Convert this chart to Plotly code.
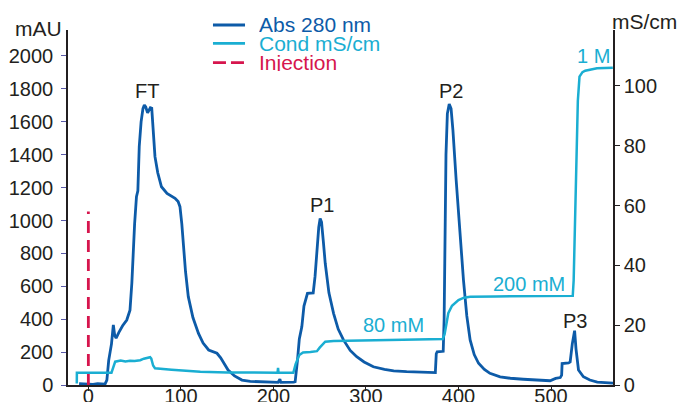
import plotly.graph_objects as go

# UV absorbance at 280 nm (mAU) versus elution volume (mL)
abs_x = [-10, -5, 0, 5, 10, 14, 18, 20, 22, 25, 27, 28.5, 30, 33, 37, 41.5, 45, 47, 48.7, 50,
         52, 53.5, 55, 57, 59, 60.5, 62, 64, 65.5, 67, 68.5, 70, 72, 75, 79, 85, 93.7, 97, 99, 101,
         102.7, 105, 108, 113, 119, 124, 130, 135, 139, 143, 147, 151, 158, 166, 175, 190, 205, 207,
         208, 222, 223.5, 226, 228, 230.7, 233, 236.8, 243, 245, 247, 249, 250.5, 252, 254, 256, 260,
         265, 270, 275.7, 283, 290, 298, 304.5, 308, 320, 330, 344, 360, 375, 376, 377, 383.5, 384.5,
         385.5, 386.5, 388, 390, 392, 394, 397.5, 401, 405.4, 409, 412.6, 417, 421.7, 428, 434, 445,
         456, 470, 485, 499, 505, 510, 511.5, 512, 519, 520.7, 523, 525.5, 527, 529.7, 535, 542, 550,
         560, 567]
abs_y = [8, 6, 3, 4, 8, 5, 5, 30, 150, 250, 365, 300, 285, 320, 360, 395, 455, 620, 840, 980,
         1145, 1180, 1450, 1600, 1680, 1702, 1690, 1655, 1670, 1685, 1682, 1560, 1388, 1290, 1205, 1165, 1135, 1115, 1084, 980,
         840, 690, 537, 410, 314, 255, 213, 200, 193, 165, 125, 91, 55, 30, 22, 18, 16, 35,
         16, 18, 20, 150, 280, 354, 480, 557, 560, 660, 820, 960, 1013, 990, 870, 740, 560,
         436, 340, 274, 210, 172, 140, 122, 111, 95, 86, 81, 77, 75, 190, 202, 205, 400,
         900, 1400, 1650, 1708, 1680, 1550, 1246, 950, 638, 420, 274, 185, 132, 95, 71, 50,
         41, 35, 30, 26, 40, 45, 60, 130, 135, 140, 250, 330, 220, 91, 50, 30, 18,
         14, 12]

# Conductivity (mS/cm) versus elution volume (mL)
cond_x = [-12.5, -12.4, 25, 27, 29, 35, 40, 45, 50, 56, 60, 66.7, 68, 70, 72, 90, 121, 150, 200,
          204.5, 205, 205.5, 221.5, 224, 228, 232, 240, 247, 250, 253, 256, 265, 300, 340, 383, 385,
          387, 389, 393, 400, 406, 412.6, 440, 480, 523.5, 524.5, 525.4, 526.5, 527.9, 529, 530.8,
          534, 537, 543, 549.7, 566.8]
cond_y = [0.5, 4.1, 4.1, 6, 7.8, 8.2, 7.9, 8.1, 8.0, 8.3, 8.8, 9.3, 8.8, 6.5, 5.6, 5.1, 4.4, 4.2, 4.1,
          4.1, 5.7, 4.1, 4.1, 7, 10, 10.9, 11.0, 11.3, 12.5, 13.5, 14.5, 14.7, 15.0, 15.1, 15.4, 17,
          20.5, 24, 26.5, 28.4, 29.2, 29.5, 29.6, 29.6, 29.8, 35, 48.5, 65, 82, 95, 103.1,
          104.6, 105.1, 105.6, 105.9, 106.1]

# Sample injection marker
inj_x = [0, 0]
inj_y = [0, 1055]

# Peak and step labels: (text, volume, mAU)
peak_labels = [("FT", 63, 1790), ("P1", 252, 1094), ("P2", 392, 1790), ("P3", 526, 392)]
salt_labels = [("80 mM", 330, 362), ("200 mM", 476, 614), ("1 M", 546, 2001)]

legend_names = ["Abs 280 nm", "Cond mS/cm", "Injection"]

x_ticks = [0, 100, 200, 300, 400, 500]
y_ticks = [0, 200, 400, 600, 800, 1000, 1200, 1400, 1600, 1800, 2000]
y2_ticks = [0, 20, 40, 60, 80, 100]

BLUE = "#0d5ba8"
CYAN = "#1aaed2"
RED = "#d6154d"
INK = "#231f20"
FONT = "Liberation Sans, Arial, Helvetica, sans-serif"

fig = go.Figure()
fig.add_trace(go.Scatter(x=cond_x, y=cond_y, yaxis="y2", mode="lines",
                         line=dict(color=CYAN, width=2.5), name=legend_names[1]))
fig.add_trace(go.Scatter(x=abs_x, y=abs_y, mode="lines",
                         line=dict(color=BLUE, width=2.8), name=legend_names[0]))
fig.add_trace(go.Scatter(x=inj_x, y=inj_y, mode="lines",
                         line=dict(color=RED, width=2.8, dash="12px,7px"), name=legend_names[2]))

annotations = []
for text, xv, yv in peak_labels:
    annotations.append(dict(x=xv, y=yv, xref="x", yref="y", text=text, showarrow=False,
                            font=dict(family=FONT, size=20, color=INK)))
for text, xv, yv in salt_labels:
    annotations.append(dict(x=xv, y=yv, xref="x", yref="y", text=text, showarrow=False,
                            font=dict(family=FONT, size=20, color=CYAN)))

# Axis unit titles
annotations.append(dict(x=-0.0536, y=1.007, xref="paper", yref="paper", text="mAU",
                        xanchor="center", yanchor="middle", showarrow=False, height=18,
                        font=dict(family=FONT, size=21, color=INK)))
annotations.append(dict(x=1.0587, y=1.0254, xref="paper", yref="paper", text="mS/cm",
                        xanchor="center", yanchor="middle", showarrow=False, height=18,
                        font=dict(family=FONT, size=21, color=INK)))

# Compact legend drawn in paper coordinates
shapes = []
leg_rows = [1.0141, 0.9625, 0.9079]
leg_cols = [BLUE, CYAN, RED]
leg_dash = ["solid", "solid", "13px,5px"]
for name, yr, col, dsh in zip(legend_names, leg_rows, leg_cols, leg_dash):
    shapes.append(dict(type="line", xref="paper", yref="paper", x0=0.266, x1=0.3248, y0=yr, y1=yr,
                       line=dict(color=col, width=2.8, dash=dsh)))
    annotations.append(dict(x=0.3462, y=yr, xref="paper", yref="paper", text=name, showarrow=False,
                            xanchor="left", yanchor="middle", height=17,
                            font=dict(family=FONT, size=21, color=col)))

fig.update_layout(
    width=681, height=402,
    margin=dict(l=68, r=68, t=30, b=17, autoexpand=False),
    paper_bgcolor="white", plot_bgcolor="white",
    showlegend=False,
    font=dict(family=FONT, size=20, color=INK),
    annotations=annotations, shapes=shapes,
    xaxis=dict(range=[-22, 567], tickvals=x_ticks, showgrid=False, zeroline=False,
               automargin=False, ticklabelstandoff=-12,
               showline=True, linecolor=INK, linewidth=1.5, ticks="outside", ticklen=4,
               tickcolor=INK, tickfont=dict(family=FONT, size=20, color=INK)),
    yaxis=dict(range=[0, 2158], tickvals=y_ticks, showgrid=False, zeroline=False,
               automargin=False, ticklabelstandoff=4,
               showline=True, linecolor=INK, linewidth=1.5, ticks="outside", ticklen=5,
               tickcolor="#5a5aa8", tickfont=dict(family=FONT, size=20, color=INK)),
    yaxis2=dict(range=[0, 118.7], tickvals=y2_ticks, overlaying="y", side="right",
                automargin=False,
                showgrid=False, zeroline=False, showline=True, linecolor=INK, linewidth=1.5,
                ticks="outside", ticklen=5, tickcolor=INK,
                tickfont=dict(family=FONT, size=20, color=INK)),
)

fig.write_html("out.html")
